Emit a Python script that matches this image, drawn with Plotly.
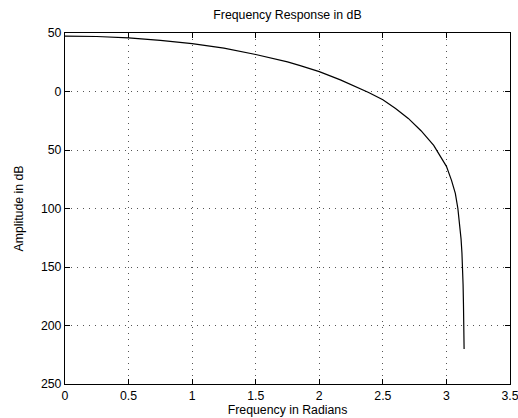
import plotly.graph_objects as go

freq = [0.0, 0.25, 0.5, 0.75, 1.0, 1.25, 1.5, 1.75, 1.85, 2.0, 2.166, 2.25, 2.388, 2.5,
        2.6, 2.7, 2.8, 2.9, 2.95, 3.0, 3.04, 3.07, 3.09, 3.105, 3.115, 3.122, 3.127,
        3.131, 3.134, 3.137, 3.139]
amp_db = [47.4, 47.0, 45.8, 43.7, 40.9, 37.0, 31.6, 25.3, 22.1, 17.0, 9.9, 6.0, -0.8, -7.1,
          -14.5, -23.0, -33.5, -46.0, -54.5, -64.0, -76.0, -87.0, -100.0, -113.0, -126.0, -138.0, -150.0,
          -165.0, -182.0, -203.0, -220.0]

x_ticks = [0, 0.5, 1, 1.5, 2, 2.5, 3, 3.5]
x_tick_text = ["0", "0.5", "1", "1.5", "2", "2.5", "3", "3.5"]
y_ticks = [50, 0, -50, -100, -150, -200, -250]
y_tick_text = ["50", "0", "50", "100", "150", "200", "250"]

font = "Liberation Sans, Arial, Helvetica, sans-serif"
fs = 12.3

fig = go.Figure()
fig.add_trace(go.Scatter(x=freq, y=amp_db, mode="lines",
                         line=dict(color="black", width=1.2),
                         showlegend=False, hoverinfo="skip"))

axis_common = dict(
    showline=True, linecolor="black", linewidth=1.2, mirror="ticks",
    ticks="inside", ticklen=5, tickcolor="black", tickwidth=1,
    showgrid=True, gridcolor="#555", griddash="1px,5px", gridwidth=1,
    zeroline=False, tickfont=dict(family=font, size=fs, color="black"),
    ticklabeloverflow="allow",
)

fig.update_xaxes(range=[0, 3.5], tickvals=x_ticks, ticktext=x_tick_text,
                 title=dict(text="Frequency in Radians", font=dict(family=font, size=fs, color="black"),
                            standoff=0),
                 automargin=False,
                 **axis_common)
fig.update_yaxes(range=[-250, 50], tickvals=y_ticks, ticktext=y_tick_text,
                 title=dict(text="Amplitude in dB", font=dict(family=font, size=fs, color="black"),
                            standoff=14),
                 **axis_common)

fig.update_layout(
    width=518, height=418,
    margin=dict(l=65, r=8, t=33, b=34),
    paper_bgcolor="white", plot_bgcolor="white",
    title=dict(text="Frequency Response in dB", x=0.555, xanchor="center", y=0.966, yanchor="middle",
               font=dict(family=font, size=fs, color="black")),
)

fig.write_html("out.html", config={"displayModeBar": False},
               post_script="document.body.style.margin='0';")
